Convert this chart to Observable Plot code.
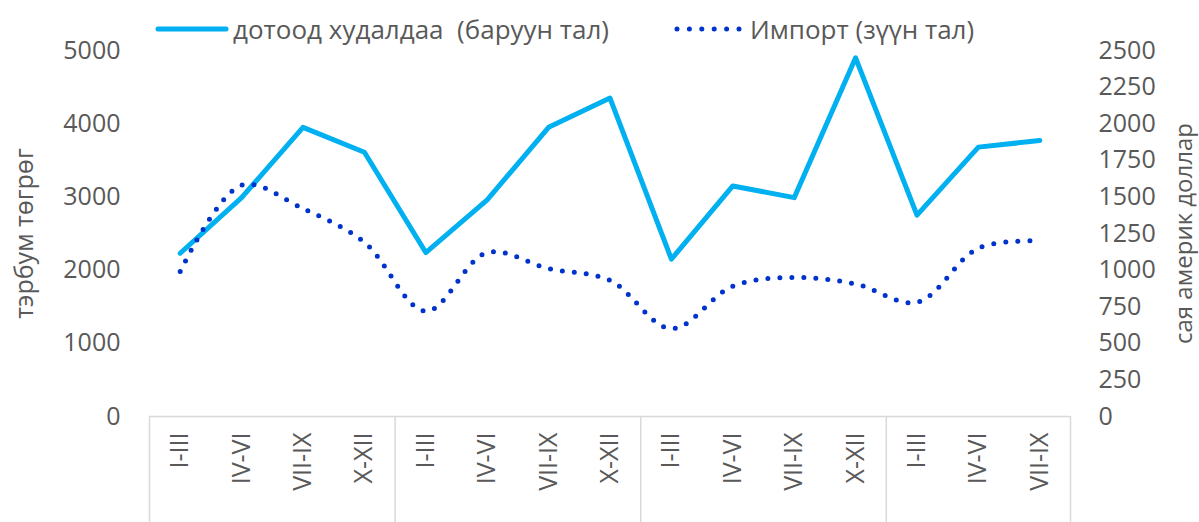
<!DOCTYPE html>
<html><head><meta charset="utf-8">
<script src="https://cdn.jsdelivr.net/npm/d3@7"></script>
<script src="https://cdn.jsdelivr.net/npm/@observablehq/plot@0.6"></script>
<style>
body{margin:0;background:#fff;font-family:"Open Sans",sans-serif;color:#595959;}
#wrap{position:relative;width:1199px;height:522px;overflow:hidden;}
#chart{position:absolute;left:0;top:0;}
.leg{position:absolute;top:12px;display:flex;align-items:center;font-size:26px;color:#595959;white-space:pre;line-height:34px;}
.leg svg{margin-right:4px;}
</style></head><body>
<div id="wrap"><div id="chart"></div>
<div class="leg" id="leg1"></div><div class="leg" id="leg2"></div></div>
<script>
const quarters = ["I-III","IV-VI","VII-IX","X-XII","I-III","IV-VI","VII-IX","X-XII","I-III","IV-VI","VII-IX","X-XII","I-III","IV-VI","VII-IX"];
const tradeValues = [2230, 2990, 3950, 3610, 2240, 2960, 3950, 4350, 2150, 3150, 2990, 4900, 2750, 3680, 3770];
const importValues = [990, 1580, 1420, 1190, 720, 1120, 1010, 930, 600, 890, 950, 905, 780, 1150, 1200];
const leftTicks = [0, 1000, 2000, 3000, 4000, 5000];
const rightTicks = [0, 250, 500, 750, 1000, 1250, 1500, 1750, 2000, 2250, 2500];
const seriesNames = ["дотоод худалдаа  (баруун тал)", "Импорт (зүүн тал)"];
const axisTitles = ["тэрбум төгрөг", "сая америк доллар"];
const groupBounds = [-0.5, 3.5, 7.5, 11.5, 14.5];

const leftMax = 5000, rightMax = 2500, k = leftMax / rightMax;
const idx = quarters.map((_, i) => i);
const trade = idx.map(i => ({i, v: tradeValues[i]}));
const imp = idx.map(i => ({i, v: importValues[i] * k}));

const tradeColor = "#00b0f0", importColor = "#0033cc", grid = "#d9d9d9", ink = "#595959";
const font = "Open Sans, sans-serif";

const chart = Plot.plot({
  width: 1199, height: 522,
  marginLeft: 149, marginRight: 129, marginTop: 50, marginBottom: 106,
  x: {type: "linear", domain: [-0.5, 14.5], axis: null},
  y: {domain: [0, leftMax], axis: null},
  style: {fontFamily: font, color: ink, background: "white", overflow: "visible"},
  marks: [
    Plot.ruleY([0], {stroke: grid, strokeWidth: 1.5}),
    Plot.axisX({ticks: groupBounds, tickSize: 106, tickFormat: () => "", stroke: grid, strokeWidth: 1.5, label: null}),
    Plot.axisX({ticks: idx, tickFormat: i => quarters[i], tickSize: 0, tickRotate: -90, tickPadding: 16, fontSize: 25, fill: ink, label: null}),
    Plot.axisY({anchor: "left", ticks: leftTicks, tickFormat: d => String(d), tickSize: 0, tickPadding: 29, fontSize: 25, fill: ink, label: null}),
    Plot.axisY({anchor: "right", ticks: rightTicks.map(d => d * k), tickFormat: d => String(d / k), tickSize: 0, tickPadding: 28, fontSize: 25, fill: ink, label: null}),
    Plot.text([axisTitles[0]], {text: d => d, frameAnchor: "left", textAnchor: "middle", dx: -125, rotate: -90, fontSize: 25, fill: ink}),
    Plot.text([axisTitles[1]], {text: d => d, frameAnchor: "right", textAnchor: "middle", dx: 114, rotate: -90, fontSize: 24, fill: ink}),
    Plot.line(trade, {x: "i", y: "v", stroke: tradeColor, strokeWidth: 5, strokeLinejoin: "round", strokeLinecap: "round"}),
    Plot.line(imp, {x: "i", y: "v", curve: "catmull-rom", stroke: importColor, strokeWidth: 5, strokeDasharray: "0 12", strokeLinecap: "round"})
  ]
});
document.getElementById("chart").appendChild(chart);

function legendItem(el, left, swatch, name) {
  el.style.left = left + "px";
  el.innerHTML = swatch + "<span>" + name + "</span>";
}
legendItem(document.getElementById("leg1"), 155,
  `<svg width="74" height="10"><line x1="3" y1="5" x2="71" y2="5" stroke="${tradeColor}" stroke-width="5" stroke-linecap="round"/></svg>`, seriesNames[0]);
legendItem(document.getElementById("leg2"), 674,
  `<svg width="72" height="10"><line x1="3" y1="5" x2="67" y2="5" stroke="${importColor}" stroke-width="5" stroke-dasharray="0 12.4" stroke-linecap="round"/></svg>`, seriesNames[1]);
</script>
</body></html>
